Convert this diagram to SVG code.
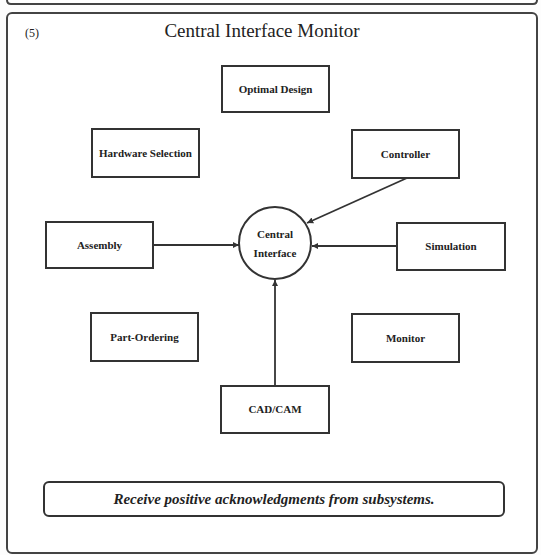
<svg xmlns="http://www.w3.org/2000/svg" width="541" height="555" viewBox="0 0 541 555">
<style>
.frame{fill:#fff;stroke:#444;stroke-width:2}
.box{fill:#fff;stroke:#333;stroke-width:2}
.lbl{font-family:"Liberation Serif",serif;font-size:11px;font-weight:bold;fill:#222;text-anchor:middle}
.conn{stroke:#333;stroke-width:1.8;fill:none}
</style>
<defs>
<marker id="arr" viewBox="0 0 10 10" refX="10" refY="5" markerWidth="3.5" markerHeight="3.5" orient="auto">
<path d="M0,0 L10,5 L0,10 z" fill="#333"/>
</marker>
</defs>
<rect width="541" height="555" fill="#fdfdfd"/>
<path d="M7,-10 L7,0 Q7,4 11,4 L533,4 Q537,4 537,0 L537,-10" class="frame" fill="none"/>
<rect x="7" y="13" width="530" height="540" rx="5" class="frame"/>
<text x="25" y="37" font-family="'Liberation Serif',serif" font-size="12" fill="#222">(5)</text>
<text x="262" y="37" font-family="'Liberation Serif',serif" font-size="19" fill="#222" text-anchor="middle">Central Interface Monitor</text>
<g id="connectors">
<line x1="153" y1="245" x2="239" y2="245" class="conn" marker-end="url(#arr)"/>
<line x1="397" y1="246" x2="312" y2="246" class="conn" marker-end="url(#arr)"/>
<line x1="407" y1="178" x2="307" y2="223" class="conn" marker-end="url(#arr)"/>
<line x1="275" y1="386" x2="275" y2="280" class="conn" marker-end="url(#arr)"/>
</g>
<g id="optimal-design"><rect x="222" y="66" width="107" height="46" class="box"/><text x="275.5" y="93" class="lbl">Optimal Design</text></g>
<g id="hardware-selection"><rect x="92" y="129" width="107" height="48" class="box"/><text x="145.5" y="157" class="lbl">Hardware Selection</text></g>
<g id="controller"><rect x="352" y="130" width="107" height="48" class="box"/><text x="405.5" y="158" class="lbl">Controller</text></g>
<g id="assembly"><rect x="46" y="222" width="107" height="46" class="box"/><text x="99.5" y="249" class="lbl">Assembly</text></g>
<g id="central-interface"><circle cx="275" cy="243" r="36" class="box"/><text x="275" y="238" class="lbl">Central</text><text x="275" y="257" class="lbl">Interface</text></g>
<g id="simulation"><rect x="397" y="223" width="108" height="47" class="box"/><text x="451" y="250" class="lbl">Simulation</text></g>
<g id="part-ordering"><rect x="91" y="313" width="107" height="48" class="box"/><text x="144.5" y="341" class="lbl">Part-Ordering</text></g>
<g id="monitor"><rect x="352" y="314" width="107" height="48" class="box"/><text x="405.5" y="342" class="lbl">Monitor</text></g>
<g id="cad-cam"><rect x="221" y="386" width="108" height="47" class="box"/><text x="275" y="413" class="lbl">CAD/CAM</text></g>
<g id="note"><rect x="44" y="482" width="460" height="34" rx="5" class="box"/><text x="274" y="504" font-family="'Liberation Serif',serif" font-size="15" font-weight="bold" font-style="italic" fill="#222" text-anchor="middle">Receive positive acknowledgments from subsystems.</text></g>
</svg>
